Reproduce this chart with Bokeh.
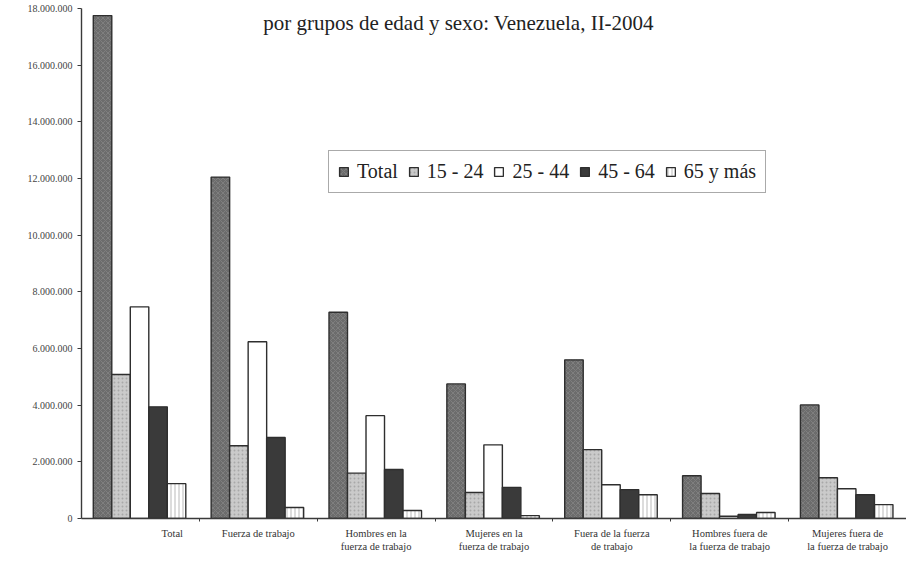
from bokeh.plotting import figure
from bokeh.models import (ColumnDataSource, Range1d, FixedTicker, Label, Legend, LegendItem)
from bokeh.embed import file_html
from bokeh.resources import INLINE

# ---------------- data ----------------
categories = ["Total", "Fuerza de trabajo", "Hombres en la\nfuerza de trabajo",
              "Mujeres en la\nfuerza de trabajo", "Fuera de la fuerza\nde trabajo",
              "Hombres fuera de\nla fuerza de trabajo", "Mujeres fuera de\nla fuerza de trabajo"]
series_names = ["Total", "15 - 24", "25 - 44", "45 - 64", "65 y más"]
v_total = [17750000, 12050000, 7280000, 4750000, 5600000, 1510000, 4010000]
v_15_24 = [5080000, 2570000, 1600000, 920000, 2430000, 880000, 1440000]
v_25_44 = [7470000, 6240000, 3630000, 2600000, 1190000, 80000, 1050000]
v_45_64 = [3940000, 2860000, 1730000, 1100000, 1020000, 140000, 840000]
v_65 = [1230000, 390000, 280000, 100000, 840000, 210000, 490000]
y_ticks = [0, 2000000, 4000000, 6000000, 8000000, 10000000, 12000000, 14000000, 16000000, 18000000]
y_tick_labels = ["0", "2.000.000", "4.000.000", "6.000.000", "8.000.000", "10.000.000",
                 "12.000.000", "14.000.000", "16.000.000", "18.000.000"]
title_text = "por grupos de edad y sexo: Venezuela, II-2004"

all_values = [v_total, v_15_24, v_25_44, v_45_64, v_65]

# ---------------- styles ----------------
styles = [
    dict(fill_color="#6c6c6c", hatch_pattern="x", hatch_color="#8c8c8c", hatch_scale=5, hatch_weight=0.6),
    dict(fill_color="#cacaca", hatch_pattern=".", hatch_color="#a8a8a8", hatch_scale=4, hatch_weight=0.6),
    dict(fill_color="#ffffff"),
    dict(fill_color="#3a3a3a"),
    dict(fill_color="#ffffff", hatch_pattern="|", hatch_color="#9a9a9a", hatch_scale=4, hatch_weight=0.7),
]
bar_w = 0.157
lead = 0.10
FONT = "'Liberation Serif', 'Times New Roman', serif"

p = figure(width=906, height=554, output_backend="svg", toolbar_location=None,
           x_range=Range1d(0, 7), y_range=Range1d(0, 18000000),
           min_border_left=81, min_border_right=0, min_border_top=8, min_border_bottom=35)
p.outline_line_color = None
p.xgrid.visible = False
p.ygrid.visible = False
p.background_fill_color = "white"

idx = list(range(len(categories)))
renderers = []
for k, (name, vals) in enumerate(zip(series_names, all_values)):
    xs = [i + lead + (k + 0.5) * bar_w for i in idx]
    src = ColumnDataSource(dict(x=xs, top=vals))
    r = p.vbar(x="x", top="top", width=bar_w, bottom=0, source=src,
               line_color="#2e2e2e", line_width=1.4, **styles[k])
    renderers.append(r)

# y axis
p.yaxis.ticker = FixedTicker(ticks=y_ticks)
p.yaxis.major_label_overrides = {t: s for t, s in zip(y_ticks, y_tick_labels)}
p.yaxis.major_label_text_font = FONT
p.yaxis.major_label_text_font_size = "10px"
p.yaxis.major_label_text_color = "#444444"
p.yaxis.axis_line_color = "#3a3a3a"
p.yaxis.axis_line_width = 1.4
p.yaxis.major_tick_line_color = "#3a3a3a"
p.yaxis.major_tick_out = 4
p.yaxis.major_tick_in = 0
p.yaxis.minor_tick_line_color = None

# x axis: labels at centres (Total label shifted like the original), ticks at boundaries
label_pos = [0.77] + [i + 0.5 for i in idx[1:]]
p.xaxis.ticker = FixedTicker(ticks=label_pos, minor_ticks=[i for i in idx[1:]])
p.xaxis.major_label_overrides = {pos: c for pos, c in zip(label_pos, categories)}
p.xaxis.major_label_text_font = FONT
p.xaxis.major_label_text_font_size = "10.5px"
p.xaxis.major_label_text_color = "#333333"
p.xaxis.major_label_standoff = 6
p.xaxis.major_tick_out = 0
p.xaxis.major_tick_in = 0
p.xaxis.minor_tick_out = 3
p.xaxis.minor_tick_in = 0
p.xaxis.minor_tick_line_color = "#3a3a3a"
p.xaxis.axis_line_color = "#3a3a3a"
p.xaxis.axis_line_width = 1.4

# title inside top of chart
p.add_layout(Label(x=3.2, y=17500000, text=title_text, text_align="center",
                   text_baseline="middle", text_font=FONT, text_font_size="21px",
                   text_color="#222222"))

legend = Legend(items=[LegendItem(label=n, renderers=[r]) for n, r in zip(series_names, renderers)],
                orientation="horizontal", location=(247, 325))
legend.label_text_font = FONT
legend.label_text_font_size = "20px"
legend.label_text_color = "#222222"
legend.glyph_width = 11
legend.glyph_height = 11
legend.label_standoff = 8
legend.spacing = 10
legend.padding = 9
legend.margin = 0
legend.border_line_color = "#555555"
legend.border_line_width = 1.3
legend.background_fill_alpha = 1
p.add_layout(legend, "center")

open("out.html", "w").write(file_html(p, INLINE))
